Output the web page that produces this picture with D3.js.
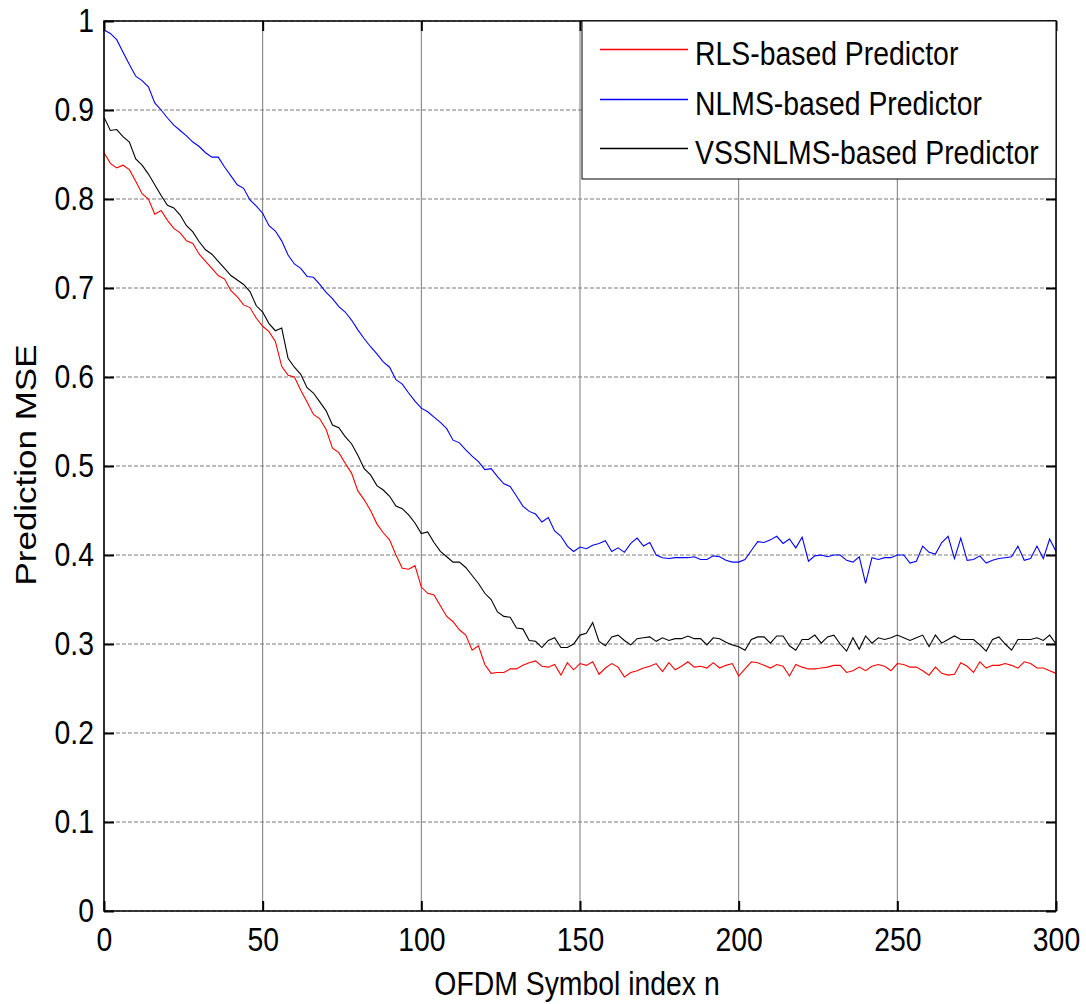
<!DOCTYPE html>
<html>

<head>
  <meta charset="utf-8">
  <title>Prediction MSE</title>
  <script src="https://d3js.org/d3.v7.min.js"></script>
  <style>
    body { margin: 0; background: #fff; }
    text { font-family: "Liberation Sans", Arial, sans-serif; fill: #000; }
  </style>
</head>

<body>
  <div id="vis"></div>
  <script>
    // symbol index n, sampled every 2 symbols
    const symbolIndex = d3.range(0, 301, 2)

    const rls = [
      0.852, 0.840, 0.835, 0.838, 0.833, 0.820, 0.806, 0.800, 0.783, 0.787,
      0.776, 0.767, 0.762, 0.753, 0.750, 0.738, 0.730, 0.722, 0.714, 0.710,
      0.697, 0.690, 0.681, 0.678, 0.666, 0.657, 0.651, 0.640, 0.612, 0.602,
      0.600, 0.585, 0.572, 0.558, 0.553, 0.541, 0.520, 0.515, 0.503, 0.492,
      0.472, 0.462, 0.450, 0.435, 0.425, 0.417, 0.400, 0.385, 0.384, 0.388,
      0.364, 0.357, 0.355, 0.343, 0.331, 0.325, 0.316, 0.310, 0.293, 0.298,
      0.277, 0.267, 0.268, 0.268, 0.272, 0.272, 0.276, 0.279, 0.281, 0.275,
      0.274, 0.277, 0.265, 0.279, 0.271, 0.278, 0.276, 0.280, 0.266, 0.273,
      0.278, 0.274, 0.263, 0.268, 0.270, 0.273, 0.275, 0.278, 0.269, 0.279,
      0.271, 0.275, 0.280, 0.274, 0.275, 0.273, 0.279, 0.273, 0.276, 0.278,
      0.264, 0.272, 0.280, 0.279, 0.276, 0.273, 0.277, 0.275, 0.264, 0.277,
      0.274, 0.272, 0.272, 0.273, 0.274, 0.276, 0.276, 0.268, 0.270, 0.274,
      0.270, 0.275, 0.277, 0.275, 0.270, 0.278, 0.277, 0.274, 0.274, 0.270,
      0.265, 0.274, 0.267, 0.265, 0.266, 0.279, 0.275, 0.268, 0.280, 0.273,
      0.276, 0.276, 0.278, 0.276, 0.273, 0.280, 0.278, 0.273, 0.273, 0.270,
      0.267
    ]

    const nlms = [
      0.990, 0.986, 0.979, 0.965, 0.951, 0.938, 0.933, 0.926, 0.908, 0.900,
      0.891, 0.883, 0.877, 0.871, 0.864, 0.859, 0.852, 0.847, 0.847, 0.836,
      0.826, 0.816, 0.812, 0.799, 0.792, 0.784, 0.770, 0.764, 0.753, 0.737,
      0.727, 0.722, 0.713, 0.712, 0.704, 0.695, 0.688, 0.679, 0.673, 0.664,
      0.653, 0.643, 0.634, 0.626, 0.617, 0.611, 0.597, 0.592, 0.582, 0.573,
      0.565, 0.561, 0.555, 0.549, 0.542, 0.529, 0.526, 0.518, 0.511, 0.505,
      0.496, 0.497, 0.488, 0.480, 0.477, 0.466, 0.455, 0.449, 0.446, 0.437,
      0.442, 0.427, 0.421, 0.410, 0.404, 0.409, 0.407, 0.411, 0.413, 0.416,
      0.404, 0.408, 0.403, 0.413, 0.419, 0.410, 0.414, 0.400, 0.397, 0.396,
      0.397, 0.397, 0.397, 0.398, 0.395, 0.395, 0.399, 0.398, 0.394, 0.392,
      0.392, 0.395, 0.405, 0.415, 0.414, 0.417, 0.421, 0.413, 0.418, 0.408,
      0.420, 0.393, 0.399, 0.400, 0.398, 0.400, 0.400, 0.394, 0.392, 0.398,
      0.368, 0.397, 0.395, 0.397, 0.397, 0.400, 0.400, 0.391, 0.393, 0.410,
      0.403, 0.401, 0.414, 0.421, 0.396, 0.419, 0.394, 0.395, 0.399, 0.391,
      0.394, 0.396, 0.397, 0.398, 0.410, 0.394, 0.396, 0.410, 0.396, 0.418,
      0.404
    ]

    const vssnlms = [
      0.892, 0.877, 0.878, 0.870, 0.864, 0.845, 0.838, 0.828, 0.816, 0.804,
      0.793, 0.790, 0.782, 0.770, 0.763, 0.752, 0.743, 0.738, 0.730, 0.722,
      0.714, 0.709, 0.704, 0.696, 0.680, 0.673, 0.660, 0.652, 0.655, 0.621,
      0.611, 0.603, 0.588, 0.582, 0.572, 0.562, 0.546, 0.543, 0.533, 0.525,
      0.512, 0.497, 0.490, 0.478, 0.473, 0.466, 0.455, 0.452, 0.445, 0.436,
      0.424, 0.426, 0.414, 0.404, 0.398, 0.392, 0.392, 0.386, 0.377, 0.368,
      0.357, 0.350, 0.336, 0.331, 0.330, 0.318, 0.317, 0.304, 0.303, 0.296,
      0.304, 0.307, 0.296, 0.296, 0.300, 0.310, 0.312, 0.324, 0.303, 0.298,
      0.308, 0.310, 0.304, 0.299, 0.306, 0.307, 0.308, 0.303, 0.307, 0.304,
      0.306, 0.306, 0.309, 0.306, 0.306, 0.299, 0.307, 0.306, 0.302, 0.299,
      0.297, 0.293, 0.305, 0.308, 0.308, 0.301, 0.309, 0.309, 0.298, 0.293,
      0.305, 0.305, 0.310, 0.301, 0.308, 0.310, 0.300, 0.292, 0.307, 0.294,
      0.309, 0.301, 0.307, 0.305, 0.307, 0.310, 0.307, 0.304, 0.307, 0.310,
      0.297, 0.310, 0.301, 0.305, 0.309, 0.305, 0.305, 0.305, 0.299, 0.292,
      0.305, 0.308, 0.300, 0.293, 0.305, 0.305, 0.305, 0.307, 0.304, 0.310,
      0.300
    ]

    const seriesNames = ["RLS-based Predictor", "NLMS-based Predictor", "VSSNLMS-based Predictor"]
    const seriesColors = ["#ff0000", "#0000ff", "#000000"]
    const seriesValues = [rls, nlms, vssnlms]

    const xTicks = [0, 50, 100, 150, 200, 250, 300]
    const yTicks = [0, 0.1, 0.2, 0.3, 0.4, 0.5, 0.6, 0.7, 0.8, 0.9, 1]
    const yTickLabels = ["0", "0.1", "0.2", "0.3", "0.4", "0.5", "0.6", "0.7", "0.8", "0.9", "1"]

    const width = 1086
    const height = 1004
    const margin = { top: 21, right: 30, bottom: 93, left: 104 }
    const iw = width - margin.left - margin.right
    const ih = height - margin.top - margin.bottom

    // the figure text is narrower than plain Arial
    const squeeze = 0.86
    const fontSize = 33

    let x = d3.scaleLinear().domain([0, 300]).range([0, iw])
    let y = d3.scaleLinear().domain([0, 1]).range([ih, 0])

    let svg = d3.select("#vis")
      .append("svg")
      .attr("width", width)
      .attr("height", height)

    svg.append("rect")
      .attr("width", width)
      .attr("height", height)
      .attr("fill", "#fff")

    let g = svg.append("g")
      .attr("transform", `translate(${margin.left},${margin.top})`)

    // grid
    g.append("g")
      .selectAll("line")
      .data(xTicks)
      .join("line")
      .attr("x1", d => x(d))
      .attr("x2", d => x(d))
      .attr("y1", 0)
      .attr("y2", ih)
      .attr("stroke", "#7a7a7a")
      .attr("stroke-width", 1)

    g.append("g")
      .selectAll("line")
      .data(yTicks)
      .join("line")
      .attr("x1", 0)
      .attr("x2", iw)
      .attr("y1", d => y(d))
      .attr("y2", d => y(d))
      .attr("stroke", "#7a7a7a")
      .attr("stroke-width", 1.2)
      .attr("stroke-dasharray", "4,2")

    // curves
    let line = d3.line()
      .x((d, i) => x(symbolIndex[i]))
      .y(d => y(d))

    g.append("g")
      .selectAll("path")
      .data(seriesValues)
      .join("path")
      .attr("d", d => line(d))
      .attr("fill", "none")
      .attr("stroke", (d, i) => seriesColors[i])
      .attr("stroke-width", 1.1)

    // axes, ticks pointing inward on all four sides
    let xAxis = g.append("g")
      .attr("transform", `translate(0,${ih})`)
      .call(d3.axisBottom(x).tickValues(xTicks).tickSizeInner(-10).tickSizeOuter(0).tickPadding(17))

    let yAxis = g.append("g")
      .call(d3.axisLeft(y).tickValues(yTicks).tickFormat((d, i) => yTickLabels[i])
        .tickSizeInner(-10).tickSizeOuter(0).tickPadding(10 / squeeze))

    let topAxis = g.append("g")
      .call(d3.axisTop(x).tickValues(xTicks).tickSizeInner(-10).tickSizeOuter(0).tickFormat(""))

    let rightAxis = g.append("g")
      .attr("transform", `translate(${iw},0)`)
      .call(d3.axisRight(y).tickValues(yTicks).tickSizeInner(-10).tickSizeOuter(0).tickFormat(""))

    for (let ax of [xAxis, yAxis, topAxis, rightAxis]) {
      ax.select(".domain").remove()
      ax.selectAll(".tick line").attr("stroke", "#000").attr("stroke-width", 2)
      ax.attr("font-size", fontSize).attr("font-family", "Liberation Sans, Arial, sans-serif")
      ax.selectAll(".tick text").attr("fill", "#000")
    }

    xAxis.selectAll(".tick text").attr("transform", `scale(${squeeze},1)`)
    yAxis.selectAll(".tick text").attr("transform", `scale(${squeeze},1)`)

    g.append("rect")
      .attr("width", iw)
      .attr("height", ih)
      .attr("fill", "none")
      .attr("stroke", "#000")
      .attr("stroke-width", 1.5)

    // legend
    const legendW = 474
    const legendH = 158
    const legendRows = [28, 78, 127]

    let legend = g.append("g")
      .attr("transform", `translate(${iw - legendW},0)`)

    legend.append("rect")
      .attr("width", legendW)
      .attr("height", legendH)
      .attr("fill", "#fff")
      .attr("stroke", "#000")
      .attr("stroke-width", 1)

    seriesNames.forEach((name, i) => {
      legend.append("path")
        .attr("d", `M18,${legendRows[i] + 0.5}H106`)
        .attr("fill", "none")
        .attr("stroke", seriesColors[i])
        .style("stroke", seriesColors[i])
        .attr("stroke-width", 1.3)

      legend.append("text")
        .attr("transform", `translate(113,${legendRows[i] + 16}) scale(${squeeze},1)`)
        .attr("font-size", fontSize)
        .text(name)
    })

    // axis titles
    svg.append("text")
      .attr("transform", `translate(577,995) scale(${squeeze},1)`)
      .attr("text-anchor", "middle")
      .attr("font-size", fontSize)
      .text("OFDM Symbol index n")

    svg.append("text")
      .attr("transform", `translate(36,465) scale(${squeeze},1) rotate(-90)`)
      .attr("text-anchor", "middle")
      .attr("font-size", 35)
      .text("Prediction MSE")
  </script>
</body>

</html>
